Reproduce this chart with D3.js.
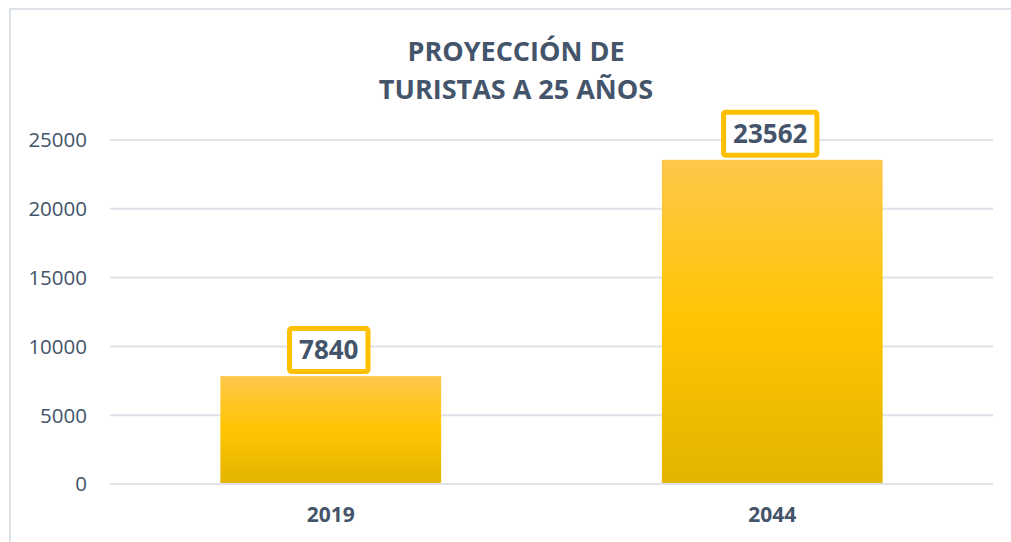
<!DOCTYPE html>
<html>
<head>
<meta charset="utf-8">
<script src="https://cdn.jsdelivr.net/npm/d3@7"></script>
<style>
  html, body { margin: 0; padding: 0; background: #ffffff; }
  svg { display: block; }
  text { font-family: "Open Sans", "Noto Sans", sans-serif; fill: #44546a; }
</style>
</head>
<body>
<svg id="chart" width="1011" height="542"></svg>
<script>
// Tourist projection data
const years = ["2019", "2044"];
const tourists = [7840, 23562];
const yTicks = [0, 5000, 10000, 15000, 20000, 25000];
const titleLines = ["PROYECCIÓN DE", "TURISTAS A 25 AÑOS"];

const svg = d3.select("#chart");
const W = 1011, H = 542;

// Chart frame (top and left edges visible)
svg.append("path")
  .attr("d", `M10,${H} L10,9 L${W},9`)
  .attr("fill", "none")
  .attr("stroke", "#dde1e8")
  .attr("stroke-width", 2);

const plot = { left: 110, right: 993, top: 140, bottom: 484 };

const x = d3.scaleBand()
  .domain(years)
  .range([plot.left, plot.right])
  .paddingInner(0.5)
  .paddingOuter(0.25);

const y = d3.scaleLinear()
  .domain([0, 25000])
  .range([plot.bottom, plot.top]);

// Bar gradient
const defs = svg.append("defs");
const grad = defs.append("linearGradient")
  .attr("id", "barGrad")
  .attr("x1", 0).attr("y1", 0).attr("x2", 0).attr("y2", 1);
grad.append("stop").attr("offset", "0%").attr("stop-color", "#ffc74b");
grad.append("stop").attr("offset", "50%").attr("stop-color", "#ffc502");
grad.append("stop").attr("offset", "100%").attr("stop-color", "#e3b400");

// Gridlines
svg.append("g")
  .selectAll("line")
  .data(yTicks)
  .join("line")
  .attr("x1", plot.left)
  .attr("x2", plot.right)
  .attr("y1", d => y(d))
  .attr("y2", d => y(d))
  .attr("stroke", "#dfe2e8")
  .attr("stroke-width", 2);

// Y axis labels
svg.append("g")
  .selectAll("text")
  .data(yTicks)
  .join("text")
  .attr("x", 87)
  .attr("y", d => y(d))
  .attr("dy", "0.36em")
  .attr("text-anchor", "end")
  .attr("font-size", 20.5)
  .text(d => d);

// Bars
const data = years.map((yr, i) => ({ year: yr, value: tourists[i] }));

svg.append("g")
  .selectAll("rect")
  .data(data)
  .join("rect")
  .attr("x", d => x(d.year))
  .attr("width", x.bandwidth())
  .attr("y", d => y(d.value))
  .attr("height", d => y(0) - 1 - y(d.value))
  .attr("fill", "url(#barGrad)");

// Category labels
svg.append("g")
  .selectAll("text")
  .data(years)
  .join("text")
  .attr("x", d => x(d) + x.bandwidth() / 2)
  .attr("y", 522)
  .attr("text-anchor", "middle")
  .attr("font-size", 21)
  .attr("font-weight", 700)
  .text(d => d);

// Value labels in outlined boxes
const labels = svg.append("g")
  .selectAll("g")
  .data(data)
  .join("g");

labels.each(function(d) {
  const g = d3.select(this);
  const cx = x(d.year) + x.bandwidth() / 2 - 2;
  const boxH = 43;
  const cy = y(d.value) - 4.5 - boxH / 2;
  const rect = g.append("rect");
  const t = g.append("text")
    .attr("x", cx)
    .attr("y", cy)
    .attr("dy", "0.36em")
    .attr("text-anchor", "middle")
    .attr("font-size", 26)
    .attr("font-weight", 700)
    .text(d.value);
  const tw = t.node().getComputedTextLength();
  const boxW = tw + 19;
  rect.attr("x", cx - boxW / 2)
    .attr("y", cy - boxH / 2)
    .attr("width", boxW)
    .attr("height", boxH)
    .attr("rx", 2)
    .attr("fill", "#ffffff")
    .attr("stroke", "#ffc000")
    .attr("stroke-width", 5);
});

// Title
svg.append("text")
  .attr("x", 516)
  .attr("text-anchor", "middle")
  .attr("font-size", 27)
  .attr("font-weight", 700)
  .selectAll("tspan")
  .data(titleLines)
  .join("tspan")
  .attr("x", 516)
  .attr("y", (d, i) => 61 + i * 38)
  .text(d => d);
</script>
</body>
</html>
